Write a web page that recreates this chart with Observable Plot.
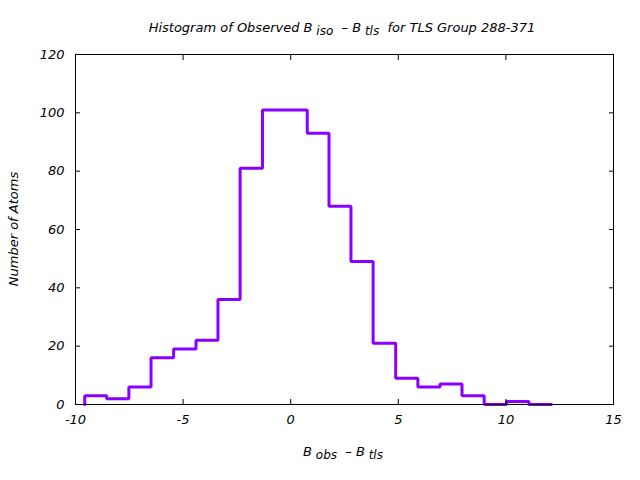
<!DOCTYPE html>
<html><head><meta charset="utf-8">
<script src="https://cdn.jsdelivr.net/npm/d3@7"></script>
<script src="https://cdn.jsdelivr.net/npm/@observablehq/plot@0.6"></script>
<style>body{margin:0;background:#fff}</style>
</head><body><div id="chart"></div>
<script>
// Bin edges (B_obs - B_tls) and atom counts
const binEdges = [-9.57, -8.55, -7.52, -6.49, -5.44, -4.40, -3.38, -2.35, -1.31, -0.27, 0.77, 1.78, 2.80, 3.83, 4.88, 5.91, 6.94, 7.96, 8.99, 10.03, 11.07, 12.12];
const counts   = [3, 2, 6, 16, 19, 22, 36, 81, 101, 101, 93, 68, 49, 21, 9, 6, 7, 3, 0, 1, 0];
const xTicks = [-10, -5, 0, 5, 10, 15];
const yTicks = [0, 20, 40, 60, 80, 100, 120];
const titleParts = [["Histogram of Observed B", false], [" iso", true], ["\u00a0 \u2013 B", false], [" tls", true], ["\u00a0 for TLS Group 288-371", false]];
const xLabelParts = [["B", false], [" obs", true], ["\u00a0 \u2013 B", false], [" tls", true]];
const yLabel = "Number of Atoms";

// step outline table built from the bins
const outline = [{x: binEdges[0], y: 0}];
counts.forEach((c, i) => outline.push({x: binEdges[i], y: c}));
outline.push({x: binEdges[binEdges.length - 1], y: counts[counts.length - 1]});
outline.push({x: binEdges[binEdges.length - 1], y: 0});

const font = "'DejaVu Sans', Verdana, sans-serif";
const chart = Plot.plot({
  width: 640, height: 480,
  marginLeft: 75, marginRight: 27, marginTop: 54, marginBottom: 76,
  style: {fontFamily: font, fontSize: "13px", fontStyle: "italic", background: "white", color: "black"},
  x: {domain: [-10, 15]},
  y: {domain: [0, 120]},
  marks: [
    Plot.line(outline, {x: "x", y: "y", curve: "step-after", stroke: "#8800ff", strokeWidth: 3, strokeLinejoin: "miter"}),
    Plot.frame({stroke: "black", strokeWidth: 1}),
    Plot.axisX(xTicks, {anchor: "bottom", tickSize: 0, tickPadding: 10, label: null, tickFormat: d => String(d)}),
    Plot.axisX(xTicks, {anchor: "bottom", tickSize: -5, text: null, label: null, stroke: "black"}),
    Plot.axisX(xTicks, {anchor: "top", tickSize: -5, text: null, label: null, stroke: "black"}),
    Plot.axisY(yTicks, {anchor: "left", tickSize: 0, tickPadding: 11, label: null, tickFormat: d => String(d)}),
    Plot.axisY(yTicks, {anchor: "left", tickSize: -5, text: null, label: null, stroke: "black"}),
    Plot.axisY(yTicks, {anchor: "right", tickSize: -5, text: null, label: null, stroke: "black"})
  ]
});
document.getElementById("chart").appendChild(chart);

const svg = d3.select(chart);
function richLabel(x, y, parts, rotate) {
  const t = svg.append("text")
    .attr("text-anchor", "middle")
    .attr("font-family", font).attr("font-style", "italic").attr("font-size", 13)
    .attr("fill", "black");
  if (rotate) t.attr("transform", `translate(${x},${y}) rotate(-90)`);
  else t.attr("x", x).attr("y", y);
  let shifted = false;
  parts.forEach(([s, sub]) => {
    const ts = t.append("tspan").text(s);
    if (sub && !shifted) { ts.attr("dy", 3).attr("font-size", 12); shifted = true; }
    else if (!sub && shifted) { ts.attr("dy", -3); shifted = false; }
    else if (sub) ts.attr("font-size", 12);
  });
  return t;
}
richLabel(342, 32, titleParts, false);
richLabel(343, 456, xLabelParts, false);
richLabel(18, 229, [[yLabel, false]], true);
</script>
</body></html>
